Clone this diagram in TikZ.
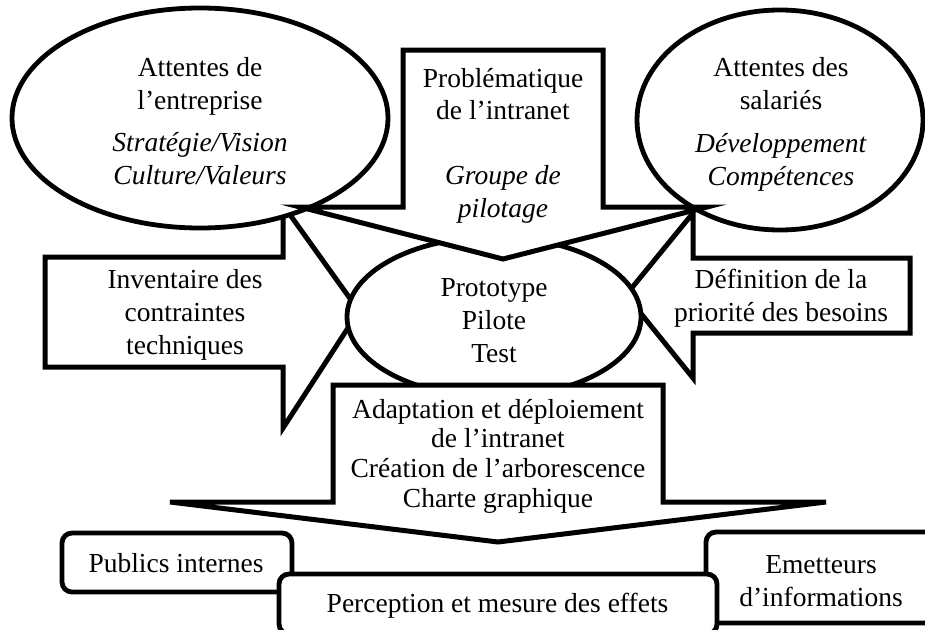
\documentclass[tikz,border=0pt]{standalone}
\usepackage{fontspec}
\setmainfont{Liberation Serif}
% centred stack of lines whose baseline is the first line
\newcommand\txtlines[1]{\begin{tabular}[t]{@{}c@{}}#1\end{tabular}}
\begin{document}
\begin{tikzpicture}[x=1pt,y=-1pt,
  calloutshape/.style={line width=5pt, fill=white, line join=miter},
  oval/.style={line width=4.8pt, fill=white},
  roundbox/.style={line width=4.8pt, fill=white, rounded corners=10pt},
  txt/.style={inner sep=0pt, anchor=base, font=\fontsize{27.5}{33}\selectfont},
  txttight/.style={txt, font=\fontsize{27.5}{29.7}\selectfont},
]
\clip (0,0) rectangle (925,629);

% side callouts (their arrow tips disappear under the central oval)
\draw[calloutshape] (45,257) -- (283,257) -- (283,205) -- (359,311) -- (283,428)
  -- (283,367) -- (45,367) -- cycle;
\draw[calloutshape] (910,258) -- (693,258) -- (693,213) -- (626,295) -- (693,378)
  -- (693,333) -- (910,333) -- cycle;

% central oval
\draw[oval] (494,317) ellipse [x radius=147pt, y radius=80pt];

% expectation ovals
\draw[oval] (200,118) ellipse [x radius=188pt, y radius=110pt];
\draw[oval] (780,120) ellipse [x radius=143pt, y radius=110pt];

% top callout pointing down
\draw[calloutshape] (403,50) -- (603,50) -- (603,207) -- (707,207) -- (503,259)
  -- (300,207) -- (403,207) -- cycle;

% bottom callout pointing down
\draw[calloutshape] (333,385) -- (663,385) -- (663,502) -- (826,502) -- (498,542)
  -- (170,502) -- (333,502) -- cycle;

% rounded boxes at the bottom
\draw[roundbox] (62,533) rectangle (292,592);
\draw[roundbox] (706,532) rectangle (936,623);
\draw[roundbox] (279,574) rectangle (717,634);

% texts
\node[txt] (ent) at (200,76) {\txtlines{Attentes de\\l’entreprise\\[9pt]
  \textit{Stratégie/Vision}\\\textit{Culture/Valeurs}}};
\node[txt] (sal) at (781,76) {\txtlines{Attentes des\\salariés\\[10pt]
  \textit{Développement}\\\textit{Compétences}}};
\node[txt, font=\fontsize{27.5}{32.5}\selectfont] (prob) at (503,87)
  {\txtlines{Problématique\\de l’intranet\\ \\\textit{Groupe de}\\\textit{pilotage}}};
\node[txt] (proto) at (494,296) {\txtlines{Prototype\\Pilote\\Test}};
\node[txt] (inv) at (185,288) {\txtlines{Inventaire des\\contraintes\\techniques}};
\node[txt] (def) at (781,288) {\txtlines{Définition de la\\priorité des besoins}};
\node[txttight] (adapt) at (498,418) {\txtlines{Adaptation et déploiement\\de l’intranet\\
  Création de l’arborescence\\Charte graphique}};
\node[txt] (pub) at (176,572) {Publics internes};
\node[txt] (perc) at (497.5,612) {Perception et mesure des effets};
\node[txt] (emet) at (821,573) {\txtlines{Emetteurs\\d’informations}};
\end{tikzpicture}
\end{document}
